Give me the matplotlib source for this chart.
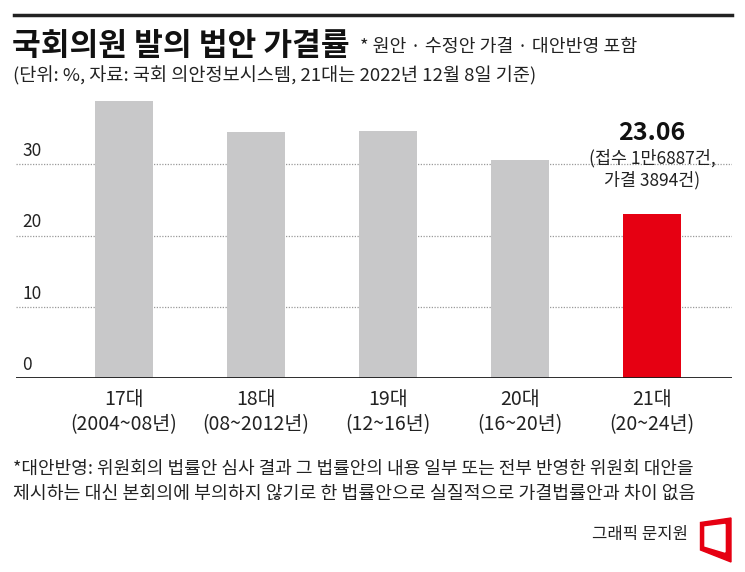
import matplotlib
matplotlib.use("Agg")
import matplotlib.pyplot as plt
from matplotlib.patches import Polygon
from matplotlib.lines import Line2D

plt.rcParams['font.family'] = ['Noto Sans CJK KR', 'DejaVu Sans']

W, H = 745, 572

terms = ["17대", "18대", "19대", "20대", "21대"]
periods = ["(2004~08년)", "(08~2012년)", "(12~16년)", "(16~20년)", "(20~24년)"]
rates = [38.9, 34.5, 34.7, 30.6, 23.06]
bar_colors = ["#c8c8c9", "#c8c8c9", "#c8c8c9", "#c8c8c9", "#e60012"]
yticks = [0, 10, 20, 30]

txt = "#222222"

fig = plt.figure(figsize=(W / 100, H / 100), dpi=100)


def fx(px):
    return px / W


def fy(py):
    return 1 - py / H


# axes placed in pixel terms
left, right, bottom, top = 16, 732, 378, 90
ax = fig.add_axes([fx(left), fy(bottom), fx(right) - fx(left), fy(top) - fy(bottom)])
ax.set_ylim(0, (bottom - top) / 7.12)
spacing = 132
ax.set_xlim(-(123.5 - left) / spacing, 4 + (right - 652) / spacing)

x = list(range(len(terms)))
ax.bar(x, rates, width=0.44, color=bar_colors, zorder=3)

for t in yticks[1:]:
    ax.axhline(t, color="#9a9a9a", lw=0.9, ls=(0, (1, 1.2)), zorder=1)
ax.axhline(0, color="#1a1a1a", lw=2, zorder=4)

for t in yticks:
    ax.text(6 / (right - left), t + 0.6, str(t), transform=ax.get_yaxis_transform(),
            ha="left", va="bottom", fontsize=12.5, color=txt)

for i in x:
    ax.text(i, -1.6, terms[i], ha="center", va="top", fontsize=14, color=txt)
    ax.text(i, -5.1, periods[i], ha="center", va="top", fontsize=14, color=txt)

ax.text(4, rates[4] + 9.6, f"{rates[4]:.2f}", ha="center", va="bottom",
        fontsize=18, fontweight="bold", color="#111111")
ax.text(4, rates[4] + 3.4, "(접수 1만6887건,\n가결 3894건)", ha="center", va="bottom",
        fontsize=12.5, color=txt, linespacing=1.25)

ax.axis("off")

# top rule
fig.add_artist(Line2D([fx(14), fx(732)], [fy(15), fy(15)], color="#222222", lw=2.5))

fig.text(fx(12), fy(46), "국회의원 발의 법안 가결률", fontsize=22.5, fontweight="heavy",
         color="#111111", va="center", ha="left")
fig.text(fx(360), fy(47), "* 원안 · 수정안 가결 · 대안반영 포함", fontsize=13.2,
         color=txt, va="center", ha="left")
fig.text(fx(13), fy(76), "(단위: %, 자료: 국회 의안정보시스템, 21대는 2022년 12월 8일 기준)",
         fontsize=13.4, color=txt, va="center", ha="left")

fig.text(fx(13), fy(469), "*대안반영: 위원회의 법률안 심사 결과 그 법률안의 내용 일부 또는 전부 반영한 위원회 대안을",
         fontsize=13, color=txt, va="center", ha="left")
fig.text(fx(13), fy(494), "제시하는 대신 본회의에 부의하지 않기로 한 법률안으로 실질적으로 가결법률안과 차이 없음",
         fontsize=13.2, color=txt, va="center", ha="left")

fig.text(fx(688), fy(534), "그래픽 문지원", fontsize=12, color=txt, va="center", ha="right")

# logo
outer = [(700.5, 522.5), (731, 518), (731, 562), (700.5, 550)]
inner = [(705, 527), (725, 524.5), (725, 552), (705, 546)]
fig.add_artist(Polygon([(fx(a), fy(b)) for a, b in outer], closed=True,
                       transform=fig.transFigure, color="#e60012"))
fig.add_artist(Polygon([(fx(a), fy(b)) for a, b in inner], closed=True,
                       transform=fig.transFigure, color="white"))

fig.savefig("out.png", dpi=100, facecolor="white")
